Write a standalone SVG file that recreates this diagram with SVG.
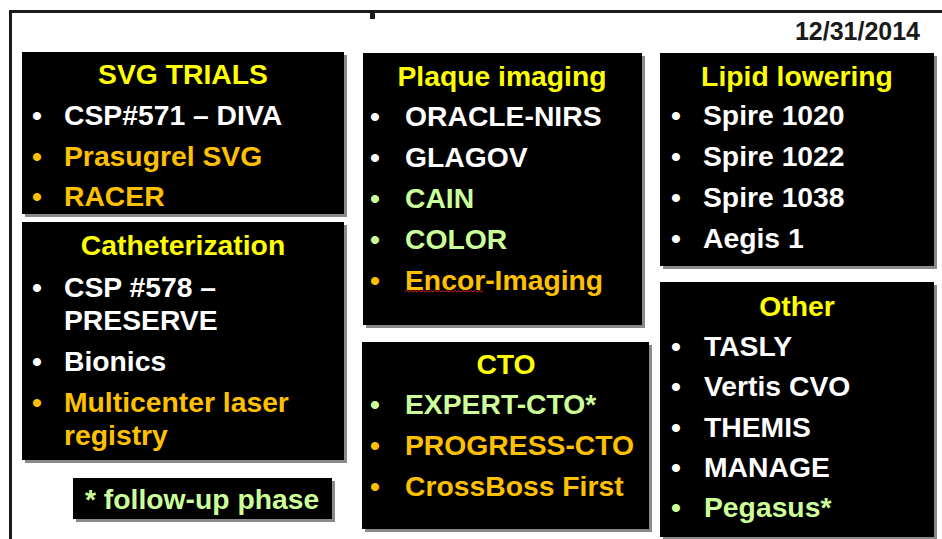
<svg xmlns="http://www.w3.org/2000/svg" width="942" height="539" viewBox="0 0 942 539">
<defs>
<style>
.box{fill:#000;}
.sh{fill:#8a8a8a;}
text{font-family:"Liberation Sans",Arial,sans-serif;font-weight:bold;font-size:28.3px;}
.t{fill:#FFFF00;text-anchor:middle;}
.w{fill:#FFFFFF;}
.o{fill:#FFC000;}
.g{fill:#CCFF99;}
.frame{stroke:#1a1a1a;stroke-width:3;fill:none;}
</style>
</defs>
<rect width="942" height="539" fill="#fff"/>
<g id="frame">
<path class="frame" d="M9,11.5 H942 M10.5,10 V539"/>
<rect x="370" y="12" width="5" height="7" fill="#1a1a1a"/>
<text x="920" y="40" text-anchor="end" fill="#1a1a1a" style="font-size:25px">12/31/2014</text>
</g>
<g id="svg-trials">
<rect class="sh" x="25" y="55" width="322" height="162"/>
<rect class="box" x="22" y="52" width="322" height="162"/>
<text class="t" x="183" y="84">SVG TRIALS</text>
<text class="w" x="32" y="125">•</text><text class="w" x="64" y="125">CSP#571 – DIVA</text>
<text class="o" x="32" y="166">•</text><text class="o" x="64" y="166">Prasugrel SVG</text>
<text class="o" x="32" y="206">•</text><text class="o" x="64" y="206">RACER</text>
</g>
<g id="catheterization">
<rect class="sh" x="25" y="225" width="322" height="238"/>
<rect class="box" x="22" y="222" width="322" height="238"/>
<text class="t" x="183" y="255">Catheterization</text>
<text class="w" x="32" y="297">•</text><text class="w" x="64" y="297">CSP #578 –</text>
<text class="w" x="64" y="330">PRESERVE</text>
<text class="w" x="32" y="371">•</text><text class="w" x="64" y="371">Bionics</text>
<text class="o" x="32" y="412">•</text><text class="o" x="64" y="412">Multicenter laser</text>
<text class="o" x="64" y="445">registry</text>
</g>
<g id="follow-up">
<rect class="sh" x="76" y="481" width="259" height="41"/>
<rect class="box" x="73" y="478" width="259" height="41"/>
<text class="g" x="85" y="509">* follow-up phase</text>
</g>
<g id="plaque-imaging">
<rect class="sh" x="366" y="56" width="279" height="272"/>
<rect class="box" x="363" y="53" width="279" height="272"/>
<text class="t" x="502" y="86">Plaque imaging</text>
<text class="w" x="370" y="126">•</text><text class="w" x="405" y="126">ORACLE-NIRS</text>
<text class="w" x="370" y="167">•</text><text class="w" x="405" y="167">GLAGOV</text>
<text class="g" x="370" y="208">•</text><text class="g" x="405" y="208">CAIN</text>
<text class="g" x="370" y="249">•</text><text class="g" x="405" y="249">COLOR</text>
<text class="o" x="370" y="290">•</text><text class="o" x="405" y="290">Encor-Imaging</text>
<path d="M405,292 l2,-1.5 l2,1.5 l2,-1.5 l2,1.5 l2,-1.5 l2,1.5 l2,-1.5 l2,1.5 l2,-1.5 l2,1.5 l2,-1.5 l2,1.5 l2,-1.5 l2,1.5 l2,-1.5 l2,1.5 l2,-1.5 l2,1.5 l2,-1.5 l2,1.5 l2,-1.5 l2,1.5 l2,-1.5 l2,1.5 l2,-1.5 l2,1.5 l2,-1.5 l2,1.5 l2,-1.5 l2,1.5 l2,-1.5 l2,1.5 l2,-1.5 l2,1.5 l2,-1.5 l2,1.5 l2,-1.5 l2,1.5 l2,-1.5" fill="none" stroke="#d02020" stroke-width="1"/>
</g>
<g id="cto">
<rect class="sh" x="365" y="345" width="287" height="187"/>
<rect class="box" x="362" y="342" width="287" height="187"/>
<text class="t" x="506" y="374">CTO</text>
<text class="g" x="370" y="414">•</text><text class="g" x="405" y="414">EXPERT-CTO*</text>
<text class="o" x="370" y="455">•</text><text class="o" x="405" y="455">PROGRESS-CTO</text>
<text class="o" x="370" y="496">•</text><text class="o" x="405" y="496">CrossBoss First</text>
</g>
<g id="lipid-lowering">
<rect class="sh" x="663" y="56" width="274" height="213"/>
<rect class="box" x="660" y="53" width="274" height="213"/>
<text class="t" x="797" y="86">Lipid lowering</text>
<text class="w" x="671" y="125">•</text><text class="w" x="703" y="125">Spire 1020</text>
<text class="w" x="671" y="166">•</text><text class="w" x="703" y="166">Spire 1022</text>
<text class="w" x="671" y="207">•</text><text class="w" x="703" y="207">Spire 1038</text>
<text class="w" x="671" y="248">•</text><text class="w" x="703" y="248">Aegis 1</text>
</g>
<g id="other">
<rect class="sh" x="663" y="285" width="274" height="255"/>
<rect class="box" x="660" y="282" width="274" height="255"/>
<text class="t" x="797" y="316">Other</text>
<text class="w" x="671" y="356">•</text><text class="w" x="704" y="356">TASLY</text>
<text class="w" x="671" y="396">•</text><text class="w" x="704" y="396">Vertis CVO</text>
<text class="w" x="671" y="437">•</text><text class="w" x="704" y="437">THEMIS</text>
<text class="w" x="671" y="477">•</text><text class="w" x="704" y="477">MANAGE</text>
<text class="g" x="671" y="517">•</text><text class="g" x="704" y="517">Pegasus*</text>
</g>
<g id="connectors"></g>
</svg>
